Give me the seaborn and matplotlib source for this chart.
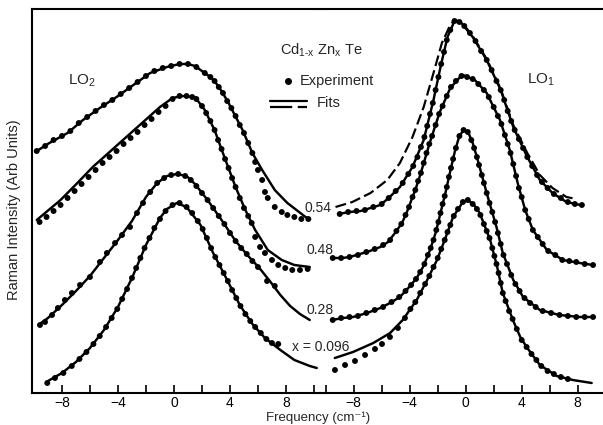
import matplotlib
matplotlib.use("Agg")
import matplotlib.pyplot as plt
import seaborn as sns

# ---------------- LO2 panel (left) : frequency (cm^-1), intensity (arb.) ----------------
L054_fit_x = [-9.9, -8.9, -7.6, -6.5, -5.3, -4.1, -2.9, -1.7, -0.5, 0.4, 1.0, 1.5, 2.0, 2.6, 2.9, 3.4, 3.9, 4.9, 5.6, 6.3, 7.2, 8.1, 9.4, 9.7]
L054_fit_y = [241, 250, 260, 273, 285, 296, 308, 320, 326, 329, 329, 327, 322, 316, 312, 302, 290, 263, 240, 223, 203, 190, 176, 174]
L054_exp_x = [-9.8, -9.2, -8.6, -8.0, -7.4, -6.8, -6.2, -5.6, -5.0, -4.4, -3.8, -3.2, -2.6, -2.0, -1.4, -0.8, -0.2, 0.4, 1.0, 1.6, 2.2,
              2.6, 2.9, 3.2, 3.5, 3.8, 4.1, 4.4, 4.7, 5.0, 5.3, 5.6, 5.8, 6.0, 6.3, 6.5, 6.7, 7.2, 7.7, 8.1, 8.6, 9.1, 9.6]
L054_exp_y = [242, 247, 253, 257, 262, 270, 276, 282, 288, 293, 299, 305, 311, 317, 322, 325, 327, 329, 329, 326, 320,
              316, 312, 306, 300, 292, 285, 277, 268, 260, 250, 240, 231, 223, 213, 201, 195, 186, 181, 178, 176, 174, 174]

L048_fit_x = [-9.8, -8.1, -6.9, -5.8, -4.6, -3.4, -2.2, -1.0, -0.1, 0.6, 1.5, 2.2, 2.9, 3.6, 4.4, 5.1, 5.8, 6.7, 7.7, 8.6, 9.7]
L048_fit_y = [173, 193, 210, 226, 241, 256, 271, 286, 295, 297, 296, 283, 263, 236, 206, 183, 163, 143, 133, 128, 126]
L048_exp_x = [-9.6, -9.1, -8.6, -8.1, -7.6, -7.1, -6.6, -6.1, -5.6, -5.1, -4.6, -4.1, -3.6, -3.1, -2.6, -2.1, -1.6, -1.1, -0.6, -0.1,
              0.4, 0.9, 1.3, 1.6, 2.0, 2.3, 2.6, 2.9, 3.15, 3.4, 3.65, 3.9, 4.15, 4.4, 4.7, 5.0, 5.3, 5.55, 5.8, 6.15, 6.5,
              7.0, 7.45, 7.95, 8.45, 9.0, 9.55]
L048_exp_y = [171, 176, 182, 188, 195, 202, 209, 216, 223, 230, 236, 242, 249, 255, 261, 268, 274, 281, 287, 294,
              297, 297, 296, 294, 287, 280, 272, 263, 253, 244, 234, 225, 215, 206, 195, 185, 177, 170, 156, 146, 140,
              133, 128, 125, 123, 123, 124]

L028_fit_x = [-9.6, -9.0, -8.0, -7.0, -6.0, -5.0, -4.0, -3.0, -2.0, -1.2, -0.5, 0.2, 0.9, 1.5, 2.4, 3.4, 4.4, 5.3, 6.1, 6.9, 7.6, 8.3, 9.0, 9.7]
L028_fit_y = [69, 75, 88, 102, 117, 135, 153, 172, 196, 210, 217, 219, 217, 209, 193, 173, 152, 137, 125, 111, 98, 87, 79, 73]
L028_exp_x = [-9.57, -9.21, -8.71, -8.29, -7.79, -7.29, -6.71, -6.0, -5.29, -4.79, -4.21, -3.71, -3.14, -2.64, -2.21, -1.7, -1.2, -0.7,
              -0.2, 0.3, 0.8, 1.2, 1.6, 2.0, 2.4, 2.8, 3.2, 3.6, 4.0, 4.4, 4.8, 5.2, 5.6, 6.0, 6.65, 7.2]
L028_exp_y = [68, 71, 78, 85, 93, 100, 108, 116, 131, 140, 150, 158, 166, 180, 190, 201, 210, 215,
              218, 219, 217, 213, 207, 200, 193, 185, 177, 169, 160, 152, 145, 139, 132, 126, 112, 107]

L096_fit_x = [-9.0, -8.0, -7.0, -6.0, -5.0, -4.0, -3.0, -2.0, -1.0, -0.5, 0.2, 0.9, 1.9, 2.8, 3.8, 4.7, 5.6, 6.5, 7.6, 8.6, 9.7, 10.2]
L096_fit_y = [12, 20, 31, 45, 63, 86, 115, 148, 175, 184, 190, 186, 168, 140, 113, 88, 69, 55, 43, 33, 27, 25]
L096_exp_x = [-9.05, -8.5, -7.9, -7.3, -6.75, -6.25, -5.75, -5.3, -4.85, -4.45, -4.05, -3.7, -3.35, -3.0, -2.7, -2.4, -2.1, -1.75,
              -1.4, -1.0, -0.6, -0.1, 0.4, 0.9, 1.3, 1.7, 2.05, 2.35, 2.65, 2.95, 3.25, 3.55, 3.85, 4.15, 4.45, 4.75, 5.1,
              5.45, 5.8, 6.2, 6.6, 7.0, 7.45]
L096_exp_y = [10, 15, 20, 27, 34, 41, 49, 57, 66, 75, 84, 94, 104, 115, 125, 135, 145, 155,
              165, 174, 182, 188, 190, 186, 180, 172, 164, 155, 145, 136, 128, 120, 112, 103, 95, 87, 79,
              72, 66, 60, 54, 50, 49]

# ---------------- LO1 panel (right) ----------------
R054_fit_x = [-9.1, -8.3, -7.5, -6.8, -6.1, -5.5, -4.7, -3.8, -3.0, -2.3, -1.8, -1.3, -0.8, -0.3, 0.5, 1.5, 2.5, 3.4, 4.4, 5.3, 6.2, 7.2, 8.2, 8.4]
R054_fit_y = [179, 181, 182, 185, 188, 195, 206, 226, 253, 293, 326, 356, 372, 370, 356, 333, 303, 266, 236, 213, 200, 191, 188, 188]
R054_fit2_x = [-9.3, -8.1, -6.8, -5.6, -4.7, -3.8, -3.0, -2.3, -1.7, -1.1, -0.8, -0.3, 0.5, 1.5, 2.5, 3.4, 4.4, 5.3, 6.2, 7.2, 7.9]
R054_fit2_y = [186, 191, 200, 213, 230, 256, 286, 320, 350, 368, 373, 371, 357, 334, 304, 268, 240, 218, 205, 196, 194]
R054_exp_x = [-9.0, -8.4, -7.8, -7.2, -6.6, -6.0, -5.5, -5.0, -4.5, -4.1, -3.75, -3.45, -3.2, -2.95, -2.75, -2.55, -2.35, -2.15,
              -1.95, -1.75, -1.55, -1.35, -1.1, -0.8, -0.45, -0.1, 0.3, 0.7, 1.1, 1.5, 1.85, 2.2, 2.5, 2.75, 3.0, 3.25,
              3.5, 3.8, 4.1, 4.4, 4.75, 5.1, 5.45, 5.85, 6.3, 6.8, 7.3, 7.8, 8.3]
R054_exp_y = [179, 181, 182, 183, 186, 189, 195, 202, 210, 219, 227, 236, 246, 256, 267, 279, 290, 303,
              316, 329, 341, 353, 363, 372, 371, 367, 360, 352, 342, 333, 323, 312, 303, 293, 282, 272,
              263, 254, 245, 236, 227, 218, 211, 205, 199, 195, 191, 189, 188]

R048_fit_x = [-9.55, -8.8, -8.3, -7.55, -6.85, -6.1, -5.55, -5.05, -4.55, -4.2, -3.85, -3.6, -3.25, -2.55, -1.85, -1.1, -0.4, -0.2,
              0.65, 1.5, 2.45, 3.15, 3.75, 4.25, 4.8, 5.8, 6.95, 8.15, 9.1]
R048_fit_y = [135, 135, 136, 139, 142, 146, 151, 160, 170, 181, 194, 203, 218, 251, 281, 305, 316, 318,
              313, 300, 273, 243, 208, 183, 163, 143, 133, 130, 128]
R048_exp_x = [-9.5, -8.9, -8.3, -7.7, -7.1, -6.5, -5.9, -5.4, -4.95, -4.6, -4.3, -4.05, -3.8, -3.6, -3.4, -3.2, -3.0, -2.8,
              -2.6, -2.4, -2.15, -1.9, -1.65, -1.35, -1.05, -0.7, -0.3, 0.1, 0.5, 0.9, 1.3, 1.65, 2.0, 2.3, 2.55, 2.8,
              3.0, 3.2, 3.4, 3.6, 3.8, 4.0, 4.25, 4.5, 4.8, 5.15, 5.5, 5.9, 6.4, 6.9, 7.4, 7.9, 8.5, 9.1]
R048_exp_y = [135, 135, 136, 138, 141, 144, 148, 153, 162, 169, 178, 186, 196, 203, 212, 220, 230, 240,
              249, 257, 268, 279, 287, 297, 306, 312, 317, 316, 314, 309, 303, 296, 286, 277, 269, 258,
              249, 240, 229, 217, 205, 196, 183, 174, 163, 156, 149, 142, 138, 133, 132, 131, 129, 128]

R028_fit_x = [-9.55, -8.75, -8.05, -7.05, -6.1, -5.4, -4.7, -4.1, -3.5, -3.05, -2.55, -2.15, -1.8, -1.45, -1.1, -0.75, -0.45, -0.15,
              0.2, 0.5, 0.8, 1.5, 2.2, 2.65, 3.4, 4.1, 5.3, 6.7, 8.15, 9.1]
R028_fit_y = [73, 75, 76, 80, 85, 90, 96, 105, 115, 126, 143, 160, 180, 200, 222, 243, 257, 263,
              260, 250, 236, 200, 166, 140, 113, 96, 83, 78, 76, 76]
R028_exp_x = [-9.5, -8.9, -8.3, -7.7, -7.1, -6.5, -5.9, -5.3, -4.75, -4.3, -3.9, -3.55, -3.25, -2.95, -2.7, -2.5, -2.3, -2.1,
              -1.95, -1.8, -1.65, -1.5, -1.35, -1.2, -1.05, -0.9, -0.7, -0.45, -0.15, 0.15, 0.4, 0.6, 0.8, 0.95, 1.15, 1.3,
              1.5, 1.7, 1.9, 2.1, 2.3, 2.5, 2.7, 2.95, 3.25, 3.55, 3.85, 4.2, 4.6, 5.0, 5.5, 6.1, 6.7, 7.3, 7.9, 8.5, 9.1]
R028_exp_y = [73, 75, 76, 77, 80, 83, 86, 91, 96, 102, 108, 114, 121, 129, 138, 145, 153, 163,
              171, 180, 189, 197, 206, 216, 225, 234, 245, 257, 263, 261, 253, 245, 236, 228, 218, 210,
              200, 190, 181, 171, 160, 149, 138, 129, 118, 109, 102, 95, 90, 86, 82, 80, 78, 77, 76, 76, 76]

R096_fit_x = [-9.35, -8.05, -6.6, -5.4, -4.5, -3.5, -2.75, -2.05, -1.5, -0.9, -0.2, 0.15, 0.6, 1.0, 1.75, 2.25, 2.65, 3.4, 3.9,
              4.4, 5.3, 6.5, 7.65, 9.0]
R096_fit_y = [35, 41, 50, 60, 73, 93, 113, 133, 153, 176, 191, 193, 188, 180, 153, 126, 100, 72, 56,
              45, 28, 17, 13, 10]
R096_exp_x = [-9.34, -8.62, -7.91, -7.19, -6.48, -5.98, -5.41, -4.84, -4.34, -3.95, -3.6, -3.25, -2.9, -2.6, -2.3, -2.0, -1.75,
              -1.5, -1.3, -1.1, -0.85, -0.55, -0.2, 0.15, 0.5, 0.8, 1.05, 1.3, 1.5, 1.7, 1.9, 2.05, 2.2, 2.35, 2.5, 2.65,
              2.85, 3.1, 3.35, 3.65, 4.0, 4.35, 4.7, 5.05, 5.4, 5.85, 6.3, 6.8, 7.3]
R096_exp_y = [23, 28, 32, 38, 44, 49, 56, 65, 75, 84, 91, 100, 109, 117, 126, 135, 144,
              153, 161, 168, 177, 184, 191, 193, 189, 184, 178, 169, 162, 155, 145, 137, 129, 120, 110, 100,
              92, 82, 74, 64, 53, 46, 39, 33, 27, 22, 19, 16, 14]

LEFT_TICKS = [-8, -4, 0, 4, 8]
LEFT_MINOR = [-6, -2, 2, 6, 10]
RIGHT_TICKS = [-8, -4, 0, 4, 8]
RIGHT_MINOR = [-10, -6, -2, 2, 6]
TICK_LABELS = ["\u22128", "\u22124", "0", "4", "8"]
CURVE_LABELS = ["0.54", "0.48", "0.28", "x = 0.096"]

# ---------------- style ----------------
sns.set_theme(style="ticks")
plt.rcParams["font.family"] = ["Liberation Sans", "DejaVu Sans"]
plt.rcParams["mathtext.fontset"] = "custom"
plt.rcParams["mathtext.rm"] = "Liberation Sans"
plt.rcParams["mathtext.it"] = "Liberation Sans"
plt.rcParams["mathtext.bf"] = "Liberation Sans"

W, H = 603, 425
fig = plt.figure(figsize=(W / 100, H / 100), dpi=100)
fig.patch.set_facecolor("white")
XS = 319.7
axL = fig.add_axes([32 / W, 32 / H, (XS - 32) / W, 384 / H])
axR = fig.add_axes([XS / W, 32 / H, (W - XS) / W, 384 / H])

LW = 1.75
DOT = 18


def draw(ax, fx, fy, ex, ey):
    sns.lineplot(x=fx, y=fy, ax=ax, color="black", linewidth=LW, sort=False, estimator=None)
    sns.scatterplot(x=ex, y=ey, ax=ax, color="black", s=DOT, edgecolor="none", zorder=3)


draw(axL, L054_fit_x, L054_fit_y, L054_exp_x, L054_exp_y)
draw(axL, L048_fit_x, L048_fit_y, L048_exp_x, L048_exp_y)
draw(axL, L028_fit_x, L028_fit_y, L028_exp_x, L028_exp_y)
draw(axL, L096_fit_x, L096_fit_y, L096_exp_x, L096_exp_y)

draw(axR, R054_fit_x, R054_fit_y, R054_exp_x, R054_exp_y)
sns.lineplot(x=R054_fit2_x, y=R054_fit2_y, ax=axR, color="black", linewidth=LW * 0.9,
             sort=False, estimator=None, linestyle=(0, (5.0, 2.0)))
draw(axR, R048_fit_x, R048_fit_y, R048_exp_x, R048_exp_y)
draw(axR, R028_fit_x, R028_fit_y, R028_exp_x, R028_exp_y)
draw(axR, R096_fit_x, R096_fit_y, R096_exp_x, R096_exp_y)

axL.set_xlim(-10.14, 10.41)
axR.set_xlim(-10.43, 9.81)
for ax, maj, mnr in ((axL, LEFT_TICKS, LEFT_MINOR), (axR, RIGHT_TICKS, RIGHT_MINOR)):
    ax.set_ylim(0, 384)
    ax.set_yticks([])
    ax.set_xticks(maj)
    ax.set_xticklabels(TICK_LABELS)
    ax.set_xticks(mnr, minor=True)
    ax.tick_params(axis="x", which="both", direction="in", length=6, width=1.2,
                   colors="black", labelsize=10, pad=2)
    ax.set_xlabel("")
    ax.set_ylabel("")
    ax.patch.set_alpha(0)
    for s in ax.spines.values():
        s.set_linewidth(1.5)
        s.set_color("black")
axL.spines["right"].set_visible(False)
axR.spines["left"].set_visible(False)
axR.spines["right"].set_visible(False)

# overlay in pixel coordinates for annotations
ov = fig.add_axes([0, 0, 1, 1])
ov.set_xlim(0, W)
ov.set_ylim(H, 0)
ov.axis("off")

ov.text(321, 50, r"Cd$_{\mathrm{1\text{-}x}}$ Zn$_{\mathrm{x}}$ Te", fontsize=10.5, ha="center", va="center")
ov.plot([288], [81], "o", color="black", markersize=4)
ov.text(300, 81, "Experiment", fontsize=10.5, ha="left", va="center")
ov.plot([270, 307], [100.5, 100.5], color="black", linewidth=1.6)
ov.plot([270, 307], [106.5, 106.5], color="black", linewidth=1.6, linestyle=(0, (10, 2.5)))
ov.text(317, 103, "Fits", fontsize=10.5, ha="left", va="center")
ov.text(68, 81, r"LO$_2$", fontsize=11, ha="left", va="center")
ov.text(527, 80, r"LO$_1$", fontsize=11, ha="left", va="center")
for lab, (px, py) in zip(CURVE_LABELS, [(318, 208), (320, 250), (320, 310), (321, 347)]):
    ov.text(px, py, lab, fontsize=10, ha="center", va="center")
ov.text(318, 424.5, "Frequency (cm\u207b\u00b9)", fontsize=9.5, ha="center", va="bottom")
ov.text(14, 210, "Raman Intensity (Arb Units)", fontsize=10.5, ha="center", va="center", rotation=90)

fig.savefig("out.png", dpi=100, facecolor="white")
